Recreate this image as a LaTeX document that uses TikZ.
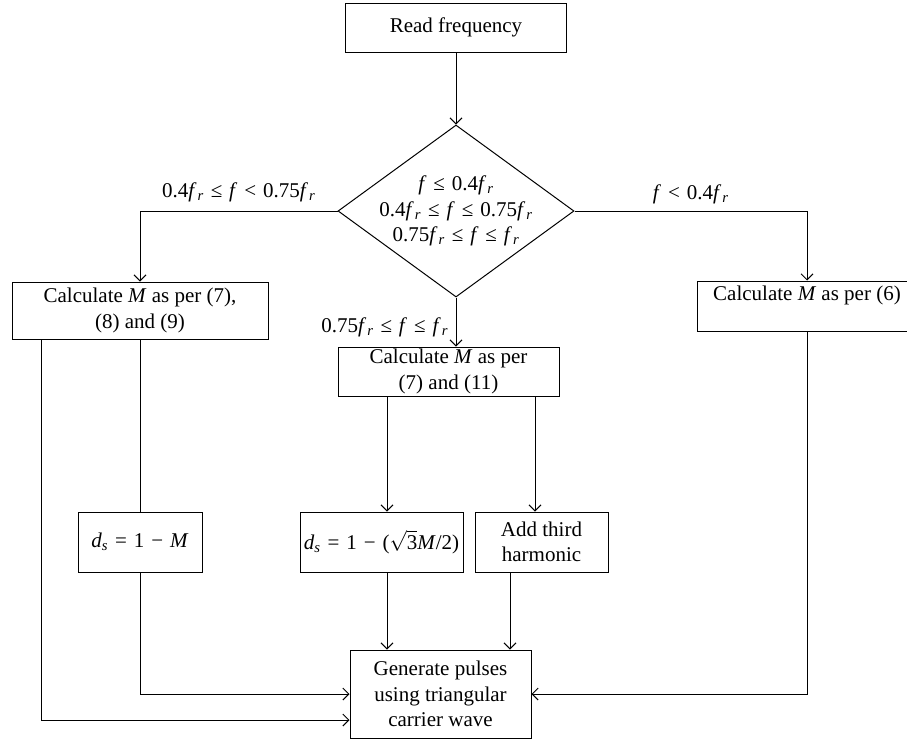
\documentclass[tikz,border=0pt]{standalone}
\usepackage{amsmath}
\usepackage{fontspec}
\setmainfont{Liberation Serif}
\usetikzlibrary{positioning}
\usetikzlibrary{shapes.geometric}
\usetikzlibrary{arrows.meta}
\newcommand{\fvar}{\textit{f}}
\newcommand{\frvar}{\textit{f}\hspace{0.05em}\textsubscript{\textit{r}}}
\newcommand{\dsvar}{\textit{d}\textsubscript{\textit{s}}}
\newcommand{\rel}[1]{\hspace{0.33em}#1\hspace{0.33em}}
\begin{document}
\begin{tikzpicture}[
    x=1pt, y=-1pt,
    font=\fontsize{21}{25.5}\selectfont,
    >={Straight Barb[length=6pt,width=12pt]},
    line width=1pt,
    mybox/.style={draw,rectangle,align=center,inner sep=2pt},
    mydec/.style={draw,diamond,aspect=1.37,inner sep=-11pt,minimum width=236pt,minimum height=172pt,align=center}
    ]

    \useasboundingbox (0,0) rectangle (907,740);
    \clip (0,0) rectangle (907,740);

    \node[mybox, minimum width=221pt, minimum height=49pt] (read) at (456,27.5) {Read frequency};
    \node[mydec] (dec) at (456,211) {\fvar\rel{≤}0.4\frvar\\0.4\frvar\rel{≤}\fvar\rel{≤}0.75\frvar\\0.75\frvar\rel{≤}\fvar\rel{≤}\frvar};
    \node[mybox, minimum width=256pt, minimum height=57pt] (c789) at (140,310.5) {Calculate \textit{M} as per (7),\\(8) and (9)};
    \node[mybox, minimum width=221pt, minimum height=49pt] (c711) at (448.5,371.5) {Calculate \textit{M} as per\\(7) and (11)};
    \node[mybox, minimum width=220pt, minimum height=50pt] (c6) at (807,306) {Calculate \textit{M} as per (6)\\~};
    \node[mybox, minimum width=124pt, minimum height=60pt] (ds1) at (140,542) {\dsvar\rel{=}1\rel{−}\textit{M}};
    \node[mybox, minimum width=163pt, minimum height=60pt, inner sep=0pt] (ds2) at (381.5,542) {\dsvar\rel{=}1\rel{−}($\sqrt{\text{3}}$\textit{M}/2)};
    \node[mybox, minimum width=133pt, minimum height=60pt] (add3) at (541.5,542) {Add third\\harmonic};
    \node[mybox, minimum width=181pt, minimum height=88pt] (gen) at (440.5,694) {Generate pulses\\using triangular\\carrier wave};

    \coordinate (xa) at (387,0);
    \coordinate (xb) at (535,0);
    \coordinate (xc) at (510,0);
    \coordinate (xo) at (41,0);

    \draw[->] (read.south) -- (dec.north);
    \draw[->] (dec.west) -| node[pos=0.25, above=5pt] {0.4\frvar\rel{≤}\fvar\rel{<}0.75\frvar} (c789.north);
    \draw[->] (dec.east) -| node[pos=0.25, above=3pt] {\fvar\rel{<}0.4\frvar} (c6.north);
    \draw[->] (dec.south) -- node[pos=0.6, left=4pt] {0.75\frvar\rel{≤}\fvar\rel{≤}\frvar} (dec.south |- c711.north);
    \draw (c789.south) -- (ds1.north);
    \draw[->] (c711.south -| xa) -- (ds2.north -| xa);
    \draw[->] (c711.south -| xb) -- (add3.north -| xb);
    \draw[->] (ds2.south -| xa) -- (gen.north -| xa);
    \draw[->] (add3.south -| xc) -- (gen.north -| xc);
    \draw[->] (ds1.south) |- (gen.west);
    \draw[->] (c6.south) |- (gen.east);
    \draw[->] (c789.south -| xo) |- ([yshift=-26pt]gen.west);

  \end{tikzpicture}
\end{document}
